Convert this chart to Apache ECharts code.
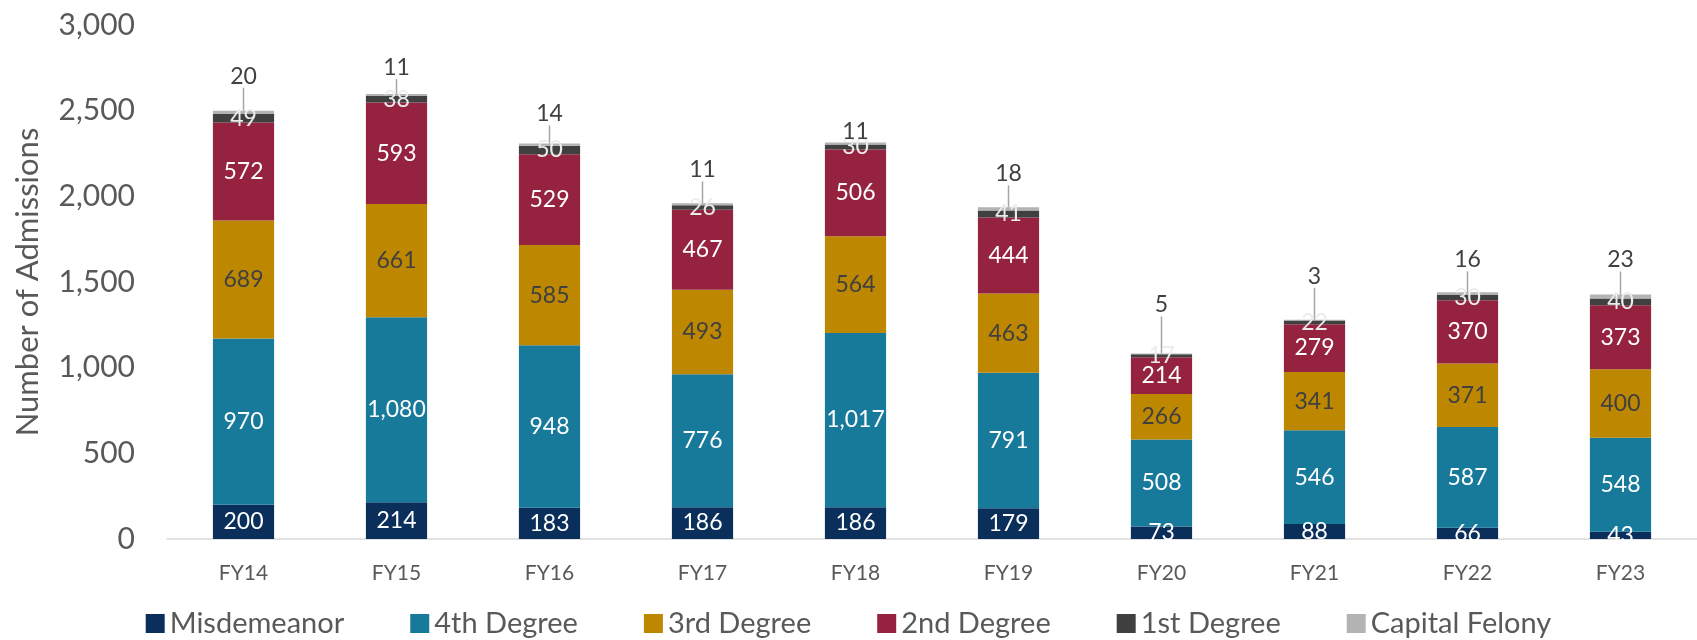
<!DOCTYPE html>
<html>
<head>
<meta charset="utf-8">
<script src="https://cdn.jsdelivr.net/npm/echarts@6/dist/echarts.min.js"></script>
<style>
  html, body { margin: 0; padding: 0; background: #fff; }
  #chart { width: 1697px; height: 640px; }
</style>
</head>
<body>
<div id="chart"></div>
<script>
var years = ['FY14', 'FY15', 'FY16', 'FY17', 'FY18', 'FY19', 'FY20', 'FY21', 'FY22', 'FY23'];
var misdemeanor = [200, 214, 183, 186, 186, 179, 73, 88, 66, 43];
var fourthDeg = [970, 1080, 948, 776, 1017, 791, 508, 546, 587, 548];
var thirdDeg = [689, 661, 585, 493, 564, 463, 266, 341, 371, 400];
var secondDeg = [572, 593, 529, 467, 506, 444, 214, 279, 370, 373];
var firstDeg = [49, 38, 50, 26, 30, 41, 17, 22, 30, 40];
var capitalFelony = [20, 11, 14, 11, 11, 18, 5, 3, 16, 23];

// how far the capital felony labels are lifted above the bar (px)
var capLift = [18, 10, 13, 17, -6, 17, 32, 27, 16, 18];

var font = 'Lato, "Open Sans", sans-serif';
var grey = '#595959';

function fmt(p) { return p.value.toLocaleString('en-US'); }

function stack(name, data, color, labelColor) {
  return {
    name: name,
    type: 'bar',
    stack: 'total',
    barWidth: '40%',
    data: data,
    itemStyle: { color: color },
    label: {
      show: true,
      position: 'inside',
      color: labelColor,
      fontFamily: font,
      fontSize: 23,
      formatter: fmt
    }
  };
}

var chart = echarts.init(document.getElementById('chart'), null, { renderer: 'canvas' });

var series = [
  stack('Misdemeanor', misdemeanor, '#0b2f5b', '#ffffff'),
  stack('4th Degree', fourthDeg, '#187a9b', '#ffffff'),
  stack('3rd Degree', thirdDeg, '#bd8700', '#404040'),
  stack('2nd Degree', secondDeg, '#95233f', '#ffffff'),
  stack('1st Degree', firstDeg, '#404040', '#ececec'),
  {
    name: 'Capital Felony',
    type: 'bar',
    stack: 'total',
    barWidth: '40%',
    data: capitalFelony,
    itemStyle: { color: '#b3b3b3' },
    label: {
      show: true,
      position: 'top',
      distance: 5,
      color: '#404040',
      fontFamily: font,
      fontSize: 23,
      formatter: fmt
    },
    labelLine: { show: true, lineStyle: { color: '#a6a6a6', width: 1.5 } },
    labelLayout: function(params) {
      return { dy: -capLift[params.dataIndex] };
    }
  }
];

chart.setOption({
  animation: false,
  textStyle: { fontFamily: font },
  grid: { left: 167, top: 25, width: 1544, bottom: 101 },
  legend: {
    top: 604,
    left: 'center',
    itemWidth: 19,
    itemHeight: 19,
    itemGap: 66,
    icon: 'rect',
    textStyle: { color: grey, fontSize: 29, fontFamily: font },
    data: ['Misdemeanor', '4th Degree', '3rd Degree', '2nd Degree', '1st Degree', 'Capital Felony']
  },
  xAxis: {
    type: 'category',
    data: years,
    axisTick: { show: false },
    axisLine: { lineStyle: { color: '#d9d9d9', width: 1.5 } },
    axisLabel: { color: grey, fontSize: 21, margin: 24, fontFamily: font }
  },
  yAxis: {
    type: 'value',
    min: 0,
    max: 3000,
    interval: 500,
    name: 'Number of Admissions',
    nameLocation: 'middle',
    nameGap: 124,
    nameTextStyle: { color: grey, fontSize: 31, fontFamily: font },
    axisLine: { show: false },
    axisTick: { show: false },
    splitLine: { show: false },
    axisLabel: {
      color: grey,
      fontSize: 30,
      margin: 32,
      fontFamily: font,
      formatter: function(v) { return v.toLocaleString('en-US'); }
    }
  },
  series: series
});
</script>
</body>
</html>
